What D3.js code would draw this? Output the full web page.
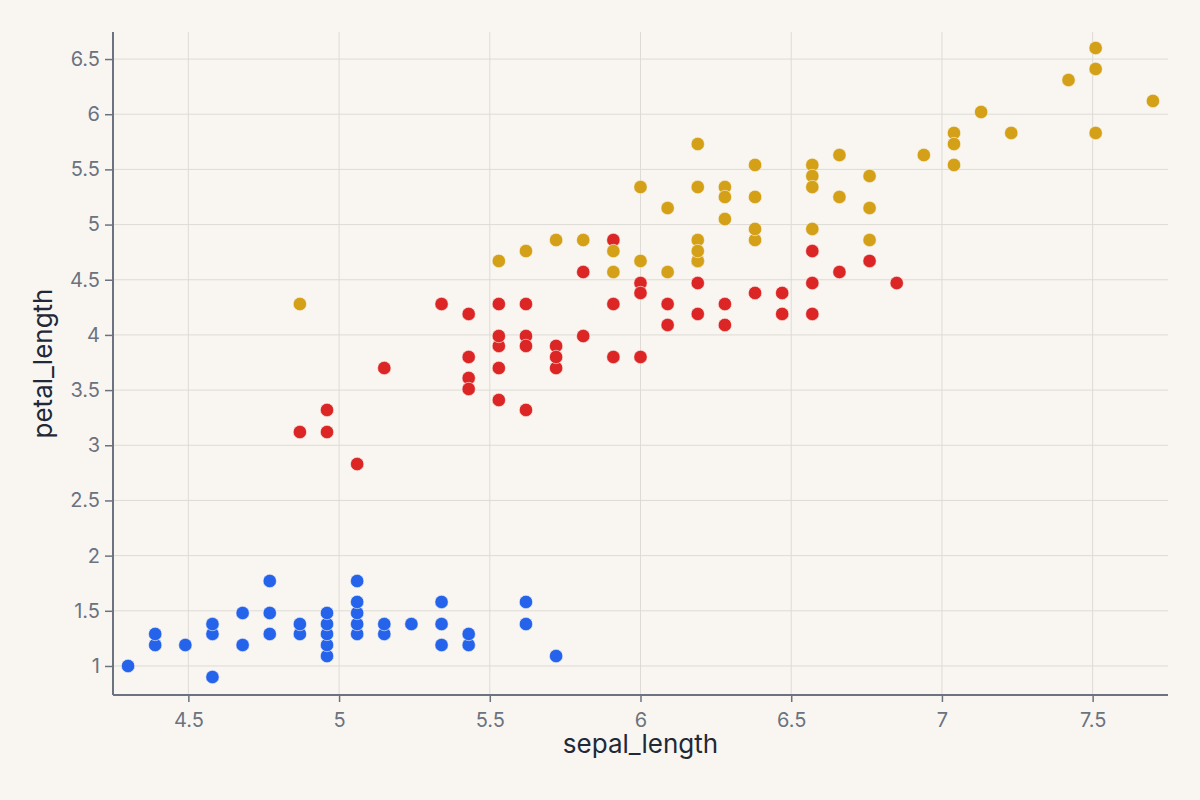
<!DOCTYPE html>
<html>
<head>
<meta charset="utf-8">
<script src="https://cdn.jsdelivr.net/npm/d3@7"></script>
<style>
  html, body { margin: 0; padding: 0; background: #f9f6f1; }
  svg { display: block; font-family: Inter, "Noto Sans", sans-serif; }
</style>
</head>
<body>
<svg id="chart" width="1200" height="800"></svg>
<script>
// ######################## Data #############################################
const species = ["setosa", "versicolor", "virginica"];

const setosaSepal = [4.30, 4.39, 4.39, 4.49, 4.58, 4.58, 4.58, 4.68, 4.68, 4.77, 4.77, 4.77,
    4.87, 4.87, 4.96, 4.96, 4.96, 4.96, 4.96, 5.06, 5.06, 5.06, 5.06, 5.06, 5.15, 5.15, 5.24,
    5.34, 5.34, 5.34, 5.43, 5.43, 5.62, 5.62, 5.72];
const setosaPetal = [1.00, 1.19, 1.29, 1.19, 0.90, 1.29, 1.38, 1.19, 1.48, 1.29, 1.48, 1.77,
    1.29, 1.38, 1.09, 1.19, 1.29, 1.38, 1.48, 1.29, 1.38, 1.48, 1.58, 1.77, 1.29, 1.38, 1.38,
    1.19, 1.38, 1.58, 1.19, 1.29, 1.38, 1.58, 1.09];

const versicolorSepal = [6.85, 6.28, 6.76, 5.43, 6.38, 5.62, 6.19, 4.87, 6.47, 5.15, 4.96, 5.81,
    5.91, 6.00, 5.53, 6.57, 5.53, 5.72, 6.09, 5.53, 5.81, 6.00, 6.19, 6.28, 6.47, 6.66, 6.57,
    5.91, 5.62, 5.43, 5.43, 5.72, 5.91, 5.34, 6.57, 6.19, 5.53, 5.43, 6.00, 5.72, 4.96, 5.53,
    5.62, 6.09, 5.06, 5.62];
const versicolorPetal = [4.47, 4.28, 4.67, 3.80, 4.38, 4.28, 4.47, 3.12, 4.38, 3.70, 3.32, 3.99,
    3.80, 4.47, 3.41, 4.19, 4.28, 3.90, 4.28, 3.70, 4.57, 3.80, 4.67, 4.09, 4.19, 4.57, 4.76,
    4.28, 3.32, 3.61, 3.51, 3.70, 4.86, 4.28, 4.47, 4.19, 3.90, 4.19, 4.38, 3.80, 3.12, 3.99,
    3.99, 4.09, 2.83, 3.90];

const virginicaSepal = [6.19, 5.72, 6.94, 6.19, 6.38, 7.42, 4.87, 7.13, 6.57, 7.04, 6.38, 6.28,
    6.66, 5.62, 6.38, 7.51, 7.51, 5.91, 6.76, 5.53, 6.19, 6.57, 7.04, 6.09, 6.00, 6.28, 7.04,
    7.23, 7.70, 6.19, 6.00, 7.51, 6.28, 5.91, 6.76, 6.57, 6.76, 6.66, 6.57, 6.19, 6.38, 6.09, 5.81];
const virginicaPetal = [5.73, 4.86, 5.63, 5.34, 5.54, 6.31, 4.28, 6.02, 5.54, 5.83, 4.86, 5.05,
    5.25, 4.76, 5.25, 6.41, 6.60, 4.76, 5.44, 4.67, 4.67, 5.44, 5.73, 4.57, 4.67, 5.34, 5.54,
    5.83, 6.12, 4.86, 5.34, 5.83, 5.25, 4.57, 5.15, 5.34, 4.86, 5.63, 4.96, 4.76, 4.96, 5.15, 4.86];

const xTicks = [4.5, 5, 5.5, 6, 6.5, 7, 7.5];
const yTicks = [1, 1.5, 2, 2.5, 3, 3.5, 4, 4.5, 5, 5.5, 6, 6.5];

// ######################## Layout ###########################################
const plot = { left: 113, right: 1168, top: 32, bottom: 695 };
const colors = { setosa: "#2563eb", versicolor: "#dc2626", virginica: "#d4a017" };

const svg = d3.select("#chart");

svg.append("rect")
    .attr("width", 1200).attr("height", 800)
    .attr("fill", "#f9f6f1");

const x = d3.scaleLinear()
    .domain([4.25, 7.75])
    .range([plot.left, plot.right]);

const y = d3.scaleLinear()
    .domain([0.737, 6.745])
    .range([plot.bottom, plot.top]);

const fmt = d => String(d);

// grid lines
svg.append("g")
    .selectAll("line")
    .data(xTicks)
    .join("line")
    .attr("x1", d => x(d)).attr("x2", d => x(d))
    .attr("y1", plot.top).attr("y2", plot.bottom)
    .attr("stroke", "#dedad5")
    .attr("stroke-width", 1);

svg.append("g")
    .selectAll("line")
    .data(yTicks)
    .join("line")
    .attr("x1", plot.left).attr("x2", plot.right)
    .attr("y1", d => y(d)).attr("y2", d => y(d))
    .attr("stroke", "#dedad5")
    .attr("stroke-width", 1);

// axes
const xAxis = svg.append("g")
    .attr("transform", `translate(0,${plot.bottom})`)
    .call(d3.axisBottom(x).tickValues(xTicks).tickFormat(fmt).tickSize(7).tickPadding(11));

const yAxis = svg.append("g")
    .attr("transform", `translate(${plot.left},0)`)
    .call(d3.axisLeft(y).tickValues(yTicks).tickFormat(fmt).tickSize(8).tickPadding(5));

[xAxis, yAxis].forEach(ax => {
    ax.select(".domain").remove();
    ax.selectAll(".tick line").attr("stroke", "#6b7280").attr("stroke-width", 1.5);
    ax.selectAll(".tick text")
        .attr("fill", "#6b7280")
        .style("font-size", "20px")
        .style("font-family", "Inter, sans-serif");
});

// axis lines drawn separately so they sit above the grid
svg.append("line")
    .attr("x1", plot.left).attr("x2", plot.right)
    .attr("y1", plot.bottom).attr("y2", plot.bottom)
    .attr("stroke", "#6b7280").attr("stroke-width", 2);

svg.append("line")
    .attr("x1", plot.left).attr("x2", plot.left)
    .attr("y1", plot.top).attr("y2", plot.bottom)
    .attr("stroke", "#6b7280").attr("stroke-width", 2);

// axis titles
svg.append("text")
    .attr("x", (plot.left + plot.right) / 2)
    .attr("y", 753)
    .attr("text-anchor", "middle")
    .attr("fill", "#1f2937")
    .style("font-size", "26px")
    .text("sepal_length");

svg.append("text")
    .attr("transform", `translate(52,${(plot.top + plot.bottom) / 2}) rotate(-90)`)
    .attr("text-anchor", "middle")
    .attr("fill", "#1f2937")
    .style("font-size", "26px")
    .text("petal_length");

// points
const series = {
    setosa: d3.zip(setosaSepal, setosaPetal),
    versicolor: d3.zip(versicolorSepal, versicolorPetal),
    virginica: d3.zip(virginicaSepal, virginicaPetal)
};

species.forEach(s => {
    svg.append("g")
        .selectAll("circle")
        .data(series[s])
        .join("circle")
        .attr("cx", d => x(d[0]))
        .attr("cy", d => y(d[1]))
        .attr("r", 6.7)
        .attr("fill", colors[s])
        .attr("stroke", "#f9f6f1")
        .attr("stroke-width", 0.6);
});
</script>
</body>
</html>
